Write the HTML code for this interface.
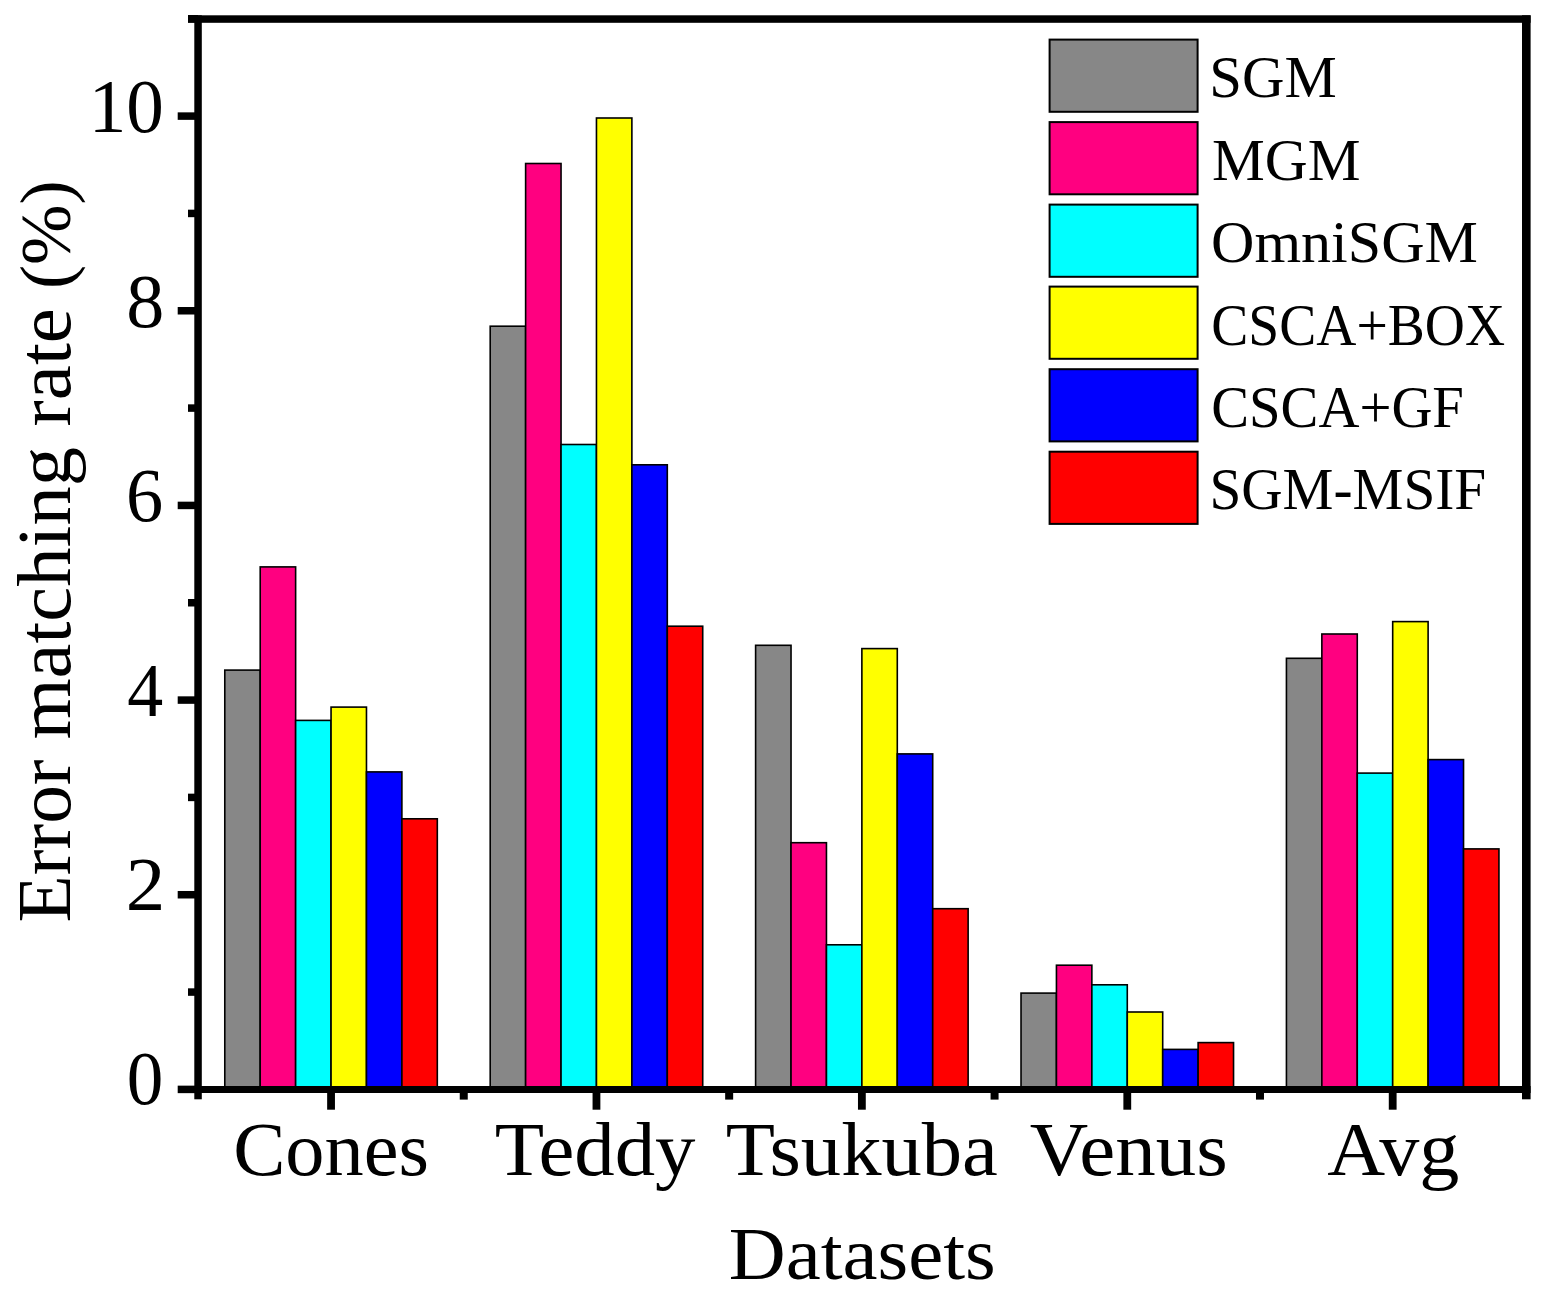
<!DOCTYPE html>
<html><head><meta charset="utf-8"><title>Error matching rate chart</title>
<style>html,body{margin:0;padding:0;background:#fff;}body{width:1554px;height:1301px;overflow:hidden;}svg{display:block;}text{font-family:"Liberation Serif",serif;}</style>
</head><body>
<svg width="1554" height="1301" viewBox="0 0 1554 1301" font-family='"Liberation Serif", serif' fill="#000">
<rect x="224.79" y="670.10" width="35.42" height="419.30" fill="#878787" stroke="#000" stroke-width="1.6"/>
<rect x="260.21" y="566.90" width="35.42" height="522.50" fill="#ff0080" stroke="#000" stroke-width="1.6"/>
<rect x="295.63" y="720.40" width="35.42" height="369.00" fill="#00ffff" stroke="#000" stroke-width="1.6"/>
<rect x="331.05" y="707.10" width="35.42" height="382.30" fill="#ffff00" stroke="#000" stroke-width="1.6"/>
<rect x="366.47" y="771.90" width="35.42" height="317.50" fill="#0000ff" stroke="#000" stroke-width="1.6"/>
<rect x="401.89" y="818.80" width="35.42" height="270.60" fill="#ff0000" stroke="#000" stroke-width="1.6"/>
<rect x="490.20" y="326.20" width="35.42" height="763.20" fill="#878787" stroke="#000" stroke-width="1.6"/>
<rect x="525.62" y="163.50" width="35.42" height="925.90" fill="#ff0080" stroke="#000" stroke-width="1.6"/>
<rect x="561.04" y="444.50" width="35.42" height="644.90" fill="#00ffff" stroke="#000" stroke-width="1.6"/>
<rect x="596.46" y="118.00" width="35.42" height="971.40" fill="#ffff00" stroke="#000" stroke-width="1.6"/>
<rect x="631.88" y="464.80" width="35.42" height="624.60" fill="#0000ff" stroke="#000" stroke-width="1.6"/>
<rect x="667.30" y="626.20" width="35.42" height="463.20" fill="#ff0000" stroke="#000" stroke-width="1.6"/>
<rect x="755.61" y="645.30" width="35.42" height="444.10" fill="#878787" stroke="#000" stroke-width="1.6"/>
<rect x="791.03" y="842.70" width="35.42" height="246.70" fill="#ff0080" stroke="#000" stroke-width="1.6"/>
<rect x="826.45" y="944.80" width="35.42" height="144.60" fill="#00ffff" stroke="#000" stroke-width="1.6"/>
<rect x="861.87" y="648.60" width="35.42" height="440.80" fill="#ffff00" stroke="#000" stroke-width="1.6"/>
<rect x="897.29" y="753.90" width="35.42" height="335.50" fill="#0000ff" stroke="#000" stroke-width="1.6"/>
<rect x="932.71" y="908.70" width="35.42" height="180.70" fill="#ff0000" stroke="#000" stroke-width="1.6"/>
<rect x="1021.02" y="993.10" width="35.42" height="96.30" fill="#878787" stroke="#000" stroke-width="1.6"/>
<rect x="1056.44" y="965.20" width="35.42" height="124.20" fill="#ff0080" stroke="#000" stroke-width="1.6"/>
<rect x="1091.86" y="984.80" width="35.42" height="104.60" fill="#00ffff" stroke="#000" stroke-width="1.6"/>
<rect x="1127.28" y="1012.00" width="35.42" height="77.40" fill="#ffff00" stroke="#000" stroke-width="1.6"/>
<rect x="1162.70" y="1049.40" width="35.42" height="40.00" fill="#0000ff" stroke="#000" stroke-width="1.6"/>
<rect x="1198.12" y="1042.60" width="35.42" height="46.80" fill="#ff0000" stroke="#000" stroke-width="1.6"/>
<rect x="1286.43" y="658.30" width="35.42" height="431.10" fill="#878787" stroke="#000" stroke-width="1.6"/>
<rect x="1321.85" y="634.00" width="35.42" height="455.40" fill="#ff0080" stroke="#000" stroke-width="1.6"/>
<rect x="1357.27" y="773.10" width="35.42" height="316.30" fill="#00ffff" stroke="#000" stroke-width="1.6"/>
<rect x="1392.69" y="621.60" width="35.42" height="467.80" fill="#ffff00" stroke="#000" stroke-width="1.6"/>
<rect x="1428.11" y="759.60" width="35.42" height="329.80" fill="#0000ff" stroke="#000" stroke-width="1.6"/>
<rect x="1463.53" y="848.90" width="35.42" height="240.50" fill="#ff0000" stroke="#000" stroke-width="1.6"/>
<rect x="188.00" y="15.30" width="1342.60" height="7.50" fill="#000"/>
<rect x="194.30" y="15.30" width="7.50" height="1084.00" fill="#000"/>
<rect x="1522.00" y="15.30" width="8.60" height="1084.00" fill="#000"/>
<rect x="178.00" y="1086.00" width="1352.60" height="7.00" fill="#000"/>
<rect x="177.70" y="1085.65" width="20.30" height="7.50" fill="#000"/>
<rect x="188.00" y="988.32" width="10.00" height="7.50" fill="#000"/>
<rect x="177.70" y="890.99" width="20.30" height="7.50" fill="#000"/>
<rect x="188.00" y="793.66" width="10.00" height="7.50" fill="#000"/>
<rect x="177.70" y="696.33" width="20.30" height="7.50" fill="#000"/>
<rect x="188.00" y="599.00" width="10.00" height="7.50" fill="#000"/>
<rect x="177.70" y="501.67" width="20.30" height="7.50" fill="#000"/>
<rect x="188.00" y="404.34" width="10.00" height="7.50" fill="#000"/>
<rect x="177.70" y="307.01" width="20.30" height="7.50" fill="#000"/>
<rect x="188.00" y="209.68" width="10.00" height="7.50" fill="#000"/>
<rect x="177.70" y="112.35" width="20.30" height="7.50" fill="#000"/>
<rect x="188.00" y="15.02" width="10.00" height="7.50" fill="#000"/>
<rect x="327.15" y="1089.00" width="7.80" height="20.70" fill="#000"/>
<rect x="592.56" y="1089.00" width="7.80" height="20.70" fill="#000"/>
<rect x="857.97" y="1089.00" width="7.80" height="20.70" fill="#000"/>
<rect x="1123.38" y="1089.00" width="7.80" height="20.70" fill="#000"/>
<rect x="1388.79" y="1089.00" width="7.80" height="20.70" fill="#000"/>
<rect x="459.75" y="1089.00" width="8.00" height="10.60" fill="#000"/>
<rect x="725.16" y="1089.00" width="8.00" height="10.60" fill="#000"/>
<rect x="990.57" y="1089.00" width="8.00" height="10.60" fill="#000"/>
<rect x="1255.98" y="1089.00" width="8.00" height="10.60" fill="#000"/>
<rect x="1049.6" y="39.60" width="148" height="72.2" fill="#878787" stroke="#000" stroke-width="2"/>
<text x="1209.33" y="97.30" font-size="60" textLength="127.41" lengthAdjust="spacingAndGlyphs">SGM</text>
<rect x="1049.6" y="122.10" width="148" height="72.2" fill="#ff0080" stroke="#000" stroke-width="2"/>
<text x="1212.07" y="179.80" font-size="60" textLength="148.47" lengthAdjust="spacingAndGlyphs">MGM</text>
<rect x="1049.6" y="204.60" width="148" height="72.2" fill="#00ffff" stroke="#000" stroke-width="2"/>
<text x="1211.12" y="261.90" font-size="60" textLength="266.72" lengthAdjust="spacingAndGlyphs">OmniSGM</text>
<rect x="1049.6" y="286.60" width="148" height="72.2" fill="#ffff00" stroke="#000" stroke-width="2"/>
<text x="1211.26" y="344.60" font-size="60" textLength="293.83" lengthAdjust="spacingAndGlyphs">CSCA+BOX</text>
<rect x="1049.6" y="369.20" width="148" height="72.2" fill="#0000ff" stroke="#000" stroke-width="2"/>
<text x="1211.23" y="426.90" font-size="60" textLength="252.69" lengthAdjust="spacingAndGlyphs">CSCA+GF</text>
<rect x="1049.6" y="451.70" width="148" height="72.2" fill="#ff0000" stroke="#000" stroke-width="2"/>
<text x="1209.42" y="508.80" font-size="60" textLength="276.80" lengthAdjust="spacingAndGlyphs">SGM-MSIF</text>
<text x="88.63" y="132.10" font-size="77" textLength="75.12" lengthAdjust="spacingAndGlyphs">10</text>
<text x="126.32" y="327.20" font-size="77" textLength="38.06" lengthAdjust="spacingAndGlyphs">8</text>
<text x="125.98" y="521.20" font-size="77" textLength="37.19" lengthAdjust="spacingAndGlyphs">6</text>
<text x="127.18" y="716.20" font-size="77" textLength="35.95" lengthAdjust="spacingAndGlyphs">4</text>
<text x="125.83" y="909.80" font-size="77" textLength="39.47" lengthAdjust="spacingAndGlyphs">2</text>
<text x="126.71" y="1104.40" font-size="77" textLength="36.57" lengthAdjust="spacingAndGlyphs">0</text>
<text x="233.15" y="1174.80" font-size="76" textLength="195.78" lengthAdjust="spacingAndGlyphs">Cones</text>
<text x="494.74" y="1174.80" font-size="76" textLength="200.76" lengthAdjust="spacingAndGlyphs">Teddy</text>
<text x="725.84" y="1174.80" font-size="76" textLength="272.07" lengthAdjust="spacingAndGlyphs">Tsukuba</text>
<text x="1029.70" y="1174.80" font-size="76" textLength="198.01" lengthAdjust="spacingAndGlyphs">Venus</text>
<text x="1327.30" y="1174.80" font-size="76" textLength="132.15" lengthAdjust="spacingAndGlyphs">Avg</text>
<text x="728.77" y="1279.30" font-size="75" textLength="266.98" lengthAdjust="spacingAndGlyphs">Datasets</text>
<text transform="translate(69.70,922.41) rotate(-90)" x="0" y="0" font-size="76" textLength="162.98" lengthAdjust="spacingAndGlyphs">Error</text>
<text transform="translate(69.70,739.53) rotate(-90)" x="0" y="0" font-size="76" textLength="292.56" lengthAdjust="spacingAndGlyphs">matching</text>
<text transform="translate(69.70,426.43) rotate(-90)" x="0" y="0" font-size="76" textLength="118.27" lengthAdjust="spacingAndGlyphs">rate</text>
<text transform="translate(69.70,289.07) rotate(-90)" x="0" y="0" font-size="72" textLength="108.69" lengthAdjust="spacingAndGlyphs">(%)</text>
</svg>
</body></html>
